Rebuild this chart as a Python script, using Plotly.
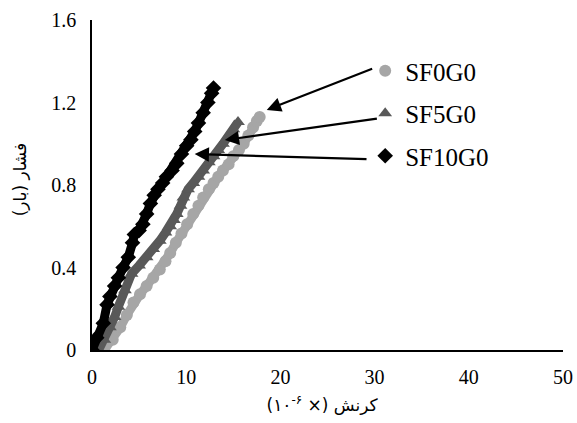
import plotly.graph_objects as go

# ---- data ----
names = ["SF0G0", "SF5G0", "SF10G0"]

sf0_x = [1.3, 2.2, 3.0, 3.7, 4.4, 5.1, 5.8, 6.5, 7.2, 7.8, 8.3, 8.9, 9.5, 10.1, 10.75,
         11.3, 11.8, 12.4, 12.9, 13.4, 13.9, 14.5, 15.0, 15.6, 16.1, 16.6, 17.1, 17.5, 17.8]
sf0_y = [0.0, 0.05, 0.11, 0.17, 0.23, 0.27, 0.31, 0.35, 0.39, 0.43, 0.47, 0.52, 0.565, 0.61, 0.66,
         0.70, 0.74, 0.78, 0.81, 0.84, 0.87, 0.90, 0.94, 0.97, 1.0, 1.04, 1.08, 1.11, 1.13]

sf5_x = [0.7, 1.3, 1.9, 2.4, 2.8, 3.5, 4.2, 5.0, 5.8, 6.5, 7.2, 7.8, 8.3, 8.7, 9.0, 9.4,
         9.7, 10.2, 10.75, 11.3, 11.8, 12.4, 12.9, 13.4, 13.9, 14.5, 15.0, 15.5]
sf5_y = [0.0, 0.05, 0.11, 0.16, 0.21, 0.29, 0.37, 0.41, 0.45, 0.49, 0.53, 0.57, 0.60, 0.63, 0.66, 0.70,
         0.74, 0.78, 0.81, 0.84, 0.87, 0.91, 0.94, 0.97, 1.0, 1.04, 1.07, 1.105]

sf10_x = [0.0, 0.5, 1.2, 1.6, 1.9, 2.4, 2.8, 3.3, 3.85, 4.3, 4.5, 5.0, 5.4, 5.8, 6.2, 6.6, 7.0,
          7.5, 7.9, 8.5, 9.0, 9.5, 10.05, 10.5, 10.9, 11.3, 11.8, 12.3, 12.7, 12.9]
sf10_y = [0.0, 0.06, 0.13, 0.22, 0.26, 0.31, 0.35, 0.40, 0.45, 0.52, 0.56, 0.58, 0.61, 0.66, 0.71, 0.75, 0.78,
          0.81, 0.84, 0.87, 0.905, 0.95, 0.99, 1.02, 1.06, 1.10, 1.15, 1.20, 1.245, 1.27]

x_ticks = [0, 10, 20, 30, 40, 50]
y_ticks = [0, 0.4, 0.8, 1.2, 1.6]
y_tick_labels = ["0", "0.4", "0.8", "1.2", "1.6"]

# arrows: (tail_x, tail_y, tip_x, tip_y) in data units
arrows = [
    (29.9, 1.366, 18.55, 1.164),
    (30.4, 1.123, 14.1, 1.018),
    (29.3, 0.925, 10.9, 0.95),
]

NB = "\u00A0"
x_title = "\u202B" + NB * 2 + "کرنش (× \u202A۱۰<sup>-۶</sup>\u202C)\u202C"
y_title = "\u202Bفشار (بار)" + NB * 2 + "\u202C"

colors = ["#A6A6A6", "#595959", "#000000"]
symbols = ["circle", "triangle-up", "diamond"]
series = [(sf0_x, sf0_y), (sf5_x, sf5_y), (sf10_x, sf10_y)]

serif = "Liberation Serif, Times New Roman, serif"
persian = "DejaVu Sans, sans-serif"

fig = go.Figure()
for i, (xs, ys) in enumerate(series):
    # thick band joining the dense measurement points
    fig.add_trace(go.Scatter(
        x=xs, y=ys, mode="lines", showlegend=False, hoverinfo="skip",
        line=dict(color=colors[i], width=9),
    ))
    fig.add_trace(go.Scatter(
        x=xs, y=ys, name=names[i], mode="markers",
        marker=dict(symbol=symbols[i], color=colors[i], size=12),
        legendgroup=names[i],
    ))

for tx, ty, hx, hy in arrows:
    fig.add_annotation(
        x=hx, y=hy, ax=tx, ay=ty, xref="x", yref="y", axref="x", ayref="y",
        showarrow=True, arrowhead=2, arrowsize=1.3, arrowwidth=2.2, arrowcolor="#000000",
        text="",
    )

fig.update_layout(
    width=577, height=423,
    margin=dict(l=92, r=14, t=20, b=73),
    paper_bgcolor="white", plot_bgcolor="white",
    font=dict(family=serif, size=20, color="#000000"),
    showlegend=True,
    legend=dict(
        x=0.58, y=0.915, xanchor="left", yanchor="top",
        font=dict(family=serif, size=25, color="#000000"),
        bgcolor="rgba(0,0,0,0)", tracegroupgap=7,
        itemsizing="trace",
    ),
    xaxis=dict(
        range=[0, 50], tickvals=x_ticks, showgrid=False, zeroline=False,
        showline=True, linecolor="#000000", linewidth=1.5, ticks="",
        ticklabelstandoff=8, automargin=False,
        title=dict(text=x_title, font=dict(family=persian, size=17), standoff=12),
    ),
    yaxis=dict(
        range=[0, 1.6], tickvals=y_ticks, ticktext=y_tick_labels, showgrid=False, zeroline=False,
        showline=True, linecolor="#000000", linewidth=1.5, ticks="",
        ticklabelstandoff=10, automargin=False,
        title=dict(text=y_title, font=dict(family=persian, size=17), standoff=20),
    ),
)

fig.write_html("out.html")
